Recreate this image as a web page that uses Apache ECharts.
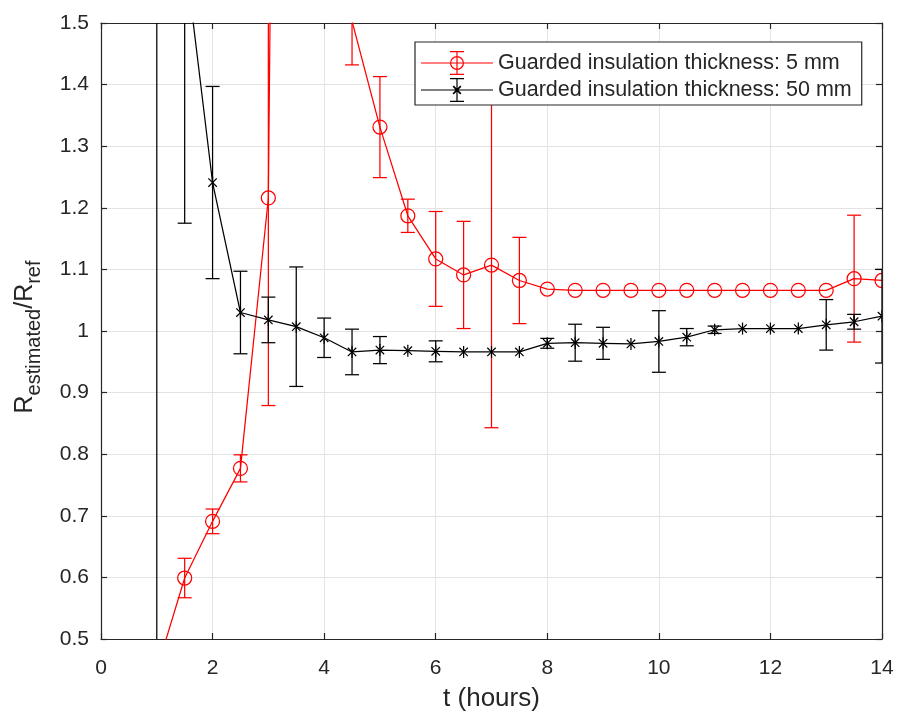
<!DOCTYPE html>
<html>
<head>
<meta charset="utf-8">
<script src="https://cdn.jsdelivr.net/npm/echarts@6/dist/echarts.min.js"></script>
<style>
html,body{margin:0;padding:0;background:#fff;}
#chart{width:898px;height:713px;}
</style>
</head>
<body>
<div id="chart"></div>
<script>
// ---- data ----
var tHours = [1, 1.5, 2, 2.5, 3, 3.5, 4, 4.5, 5, 5.5, 6, 6.5, 7, 7.5, 8, 8.5, 9, 9.5, 10, 10.5, 11, 11.5, 12, 12.5, 13, 13.5, 14];

var name5mm = 'Guarded insulation thickness: 5 mm';
var val5mm = [0.45, 0.599, 0.691, 0.777, 1.216, 6.0, 3.0, 1.503, 1.331, 1.187, 1.117, 1.091, 1.107, 1.082, 1.068, 1.066, 1.066, 1.066, 1.066, 1.066, 1.066, 1.066, 1.066, 1.066, 1.066, 1.085, 1.082];
var err5mm = [0.03, 0.032, 0.020, 0.022, 0.337, 1.0, 0.5, 0.071, 0.082, 0.027, 0.077, 0.087, 0.264, 0.070, 0, 0, 0, 0, 0, 0, 0, 0, 0, 0, 0, 0.103, 0];

var name50mm = 'Guarded insulation thickness: 50 mm';
var val50mm = [2.4, 1.615, 1.241, 1.030, 1.018, 1.007, 0.989, 0.966, 0.969, 0.968, 0.967, 0.966, 0.966, 0.966, 0.980, 0.981, 0.980, 0.979, 0.983, 0.990, 1.002, 1.004, 1.004, 1.004, 1.010, 1.015, 1.024];
var err50mm = [2.2, 0.44, 0.156, 0.067, 0.037, 0.097, 0.032, 0.037, 0.022, 0, 0.017, 0, 0, 0, 0.008, 0.030, 0.026, 0, 0.050, 0.014, 0.006, 0, 0, 0, 0.041, 0.012, 0.076];

var xTicks = {min: 0, max: 14, interval: 2};
var yTicks = {min: 0.5, max: 1.5, interval: 0.1};

// ---- build ----
var RED = '#ff0000', BLACK = '#000000', AXIS = '#262626', FONT = '"Liberation Sans", Arial, Helvetica, sans-serif';

function pairs(v) { return tHours.map(function (t, i) { return [t, v[i]]; }); }
function triples(v, e) { return tHours.map(function (t, i) { return [t, v[i], e[i]]; }); }

function errRender(kind, color) {
  return function (params, api) {
    var t = api.value(0), v = api.value(1), e = api.value(2);
    var p = api.coord([t, v]);
    var st = {stroke: color, lineWidth: 1.25, fill: null};
    var ch = [];
    if (e > 0) {
      var a = api.coord([t, v + e]), b = api.coord([t, v - e]);
      ch.push({type: 'line', shape: {x1: a[0], y1: a[1], x2: b[0], y2: b[1]}, style: st});
      ch.push({type: 'line', shape: {x1: a[0] - 7, y1: a[1], x2: a[0] + 7, y2: a[1]}, style: st});
      ch.push({type: 'line', shape: {x1: b[0] - 7, y1: b[1], x2: b[0] + 7, y2: b[1]}, style: st});
    }
    // markers of points outside the axis limits are not drawn (as in the reference)
    var inside = v >= yTicks.min && v <= yTicks.max && t >= xTicks.min && t <= xTicks.max;
    if (inside) {
      if (kind === 'circle') {
        ch.push({type: 'circle', shape: {cx: p[0], cy: p[1], r: 7}, style: {stroke: color, lineWidth: 1.25, fill: null}});
      } else {
        var s = 6, d = 4.2;
        ch.push({type: 'line', shape: {x1: p[0], y1: p[1] - s, x2: p[0], y2: p[1] + s}, style: st});
        ch.push({type: 'line', shape: {x1: p[0] - d, y1: p[1] - d, x2: p[0] + d, y2: p[1] + d}, style: st});
        ch.push({type: 'line', shape: {x1: p[0] - d, y1: p[1] + d, x2: p[0] + d, y2: p[1] - d}, style: st});
      }
    }
    return {type: 'group', children: ch};
  };
}

function rect(x1, y1, x2, y2) { return 'M' + x1 + ' ' + y1 + 'L' + x2 + ' ' + y1 + 'L' + x2 + ' ' + y2 + 'L' + x1 + ' ' + y2 + 'Z'; }
var baseIcon = rect(0, 11.4, 72, 12.6) + rect(35.4, 0, 36.6, 24) + rect(29, 0, 43, 1.2) + rect(29, 22.8, 43, 24);
var iconRed = 'path://' + baseIcon +
  'M43 12A7 7 0 1 1 29 12A7 7 0 1 1 43 12Z' +
  'M41.8 12A5.8 5.8 0 1 0 30.2 12A5.8 5.8 0 1 0 41.8 12Z';
var dd = 3.8, ww = 0.6;
var iconBlack = 'path://' + baseIcon +
  'M' + (36 - dd + ww) + ' ' + (12 - dd - ww) + 'L' + (36 + dd + ww) + ' ' + (12 + dd - ww) + 'L' + (36 + dd - ww) + ' ' + (12 + dd + ww) + 'L' + (36 - dd - ww) + ' ' + (12 - dd + ww) + 'Z' +
  'M' + (36 - dd - ww) + ' ' + (12 + dd - ww) + 'L' + (36 + dd - ww) + ' ' + (12 - dd - ww) + 'L' + (36 + dd + ww) + ' ' + (12 - dd + ww) + 'L' + (36 - dd + ww) + ' ' + (12 + dd + ww) + 'Z';

function xAx(pos, labels) {
  return {
    type: 'value', position: pos, min: xTicks.min, max: xTicks.max, interval: xTicks.interval,
    axisLine: {show: true, onZero: false, lineStyle: {color: AXIS, width: 1.2}},
    axisTick: {show: true, inside: true, length: 6, lineStyle: {color: AXIS, width: 1.2}},
    axisLabel: {show: labels, color: AXIS, fontSize: 21, fontFamily: FONT, margin: 19},
    splitLine: {show: labels, lineStyle: {color: '#e3e3e3', width: 1}},
    name: labels ? 't (hours)' : '', nameLocation: 'middle', nameGap: 47,
    nameTextStyle: {color: AXIS, fontSize: 26, fontFamily: FONT}
  };
}
function yAx(pos, labels) {
  return {
    type: 'value', position: pos, min: yTicks.min, max: yTicks.max, interval: yTicks.interval,
    axisLine: {show: true, onZero: false, lineStyle: {color: AXIS, width: 1.2}},
    axisTick: {show: true, inside: true, length: 6, lineStyle: {color: AXIS, width: 1.2}},
    axisLabel: {show: labels, color: AXIS, fontSize: 21, fontFamily: FONT, margin: 12},
    splitLine: {show: labels, lineStyle: {color: '#e3e3e3', width: 1}},
    name: labels ? '{a|R}{s|estimated}{a|/R}{s|ref}' : '', nameLocation: 'middle', nameGap: 57, nameRotate: 90,
    nameTextStyle: {
      color: AXIS, fontFamily: FONT, padding: [0, 12, 0, 0],
      rich: {
        a: {fontSize: 25, fontFamily: FONT, color: AXIS, verticalAlign: 'bottom', padding: [0, 0, 6, 0]},
        s: {fontSize: 20, fontFamily: FONT, color: AXIS, verticalAlign: 'bottom'}
      }
    }
  };
}

var chart = echarts.init(document.getElementById('chart'), null, {renderer: 'canvas'});
chart.setOption({
  backgroundColor: '#ffffff',
  animation: false,
  grid: {left: 101, right: 16, top: 23, bottom: 74, containLabel: false, outerBoundsMode: 'none'},
  xAxis: [xAx('bottom', true), xAx('top', false)],
  yAxis: [yAx('left', true), yAx('right', false)],
  legend: {
    orient: 'vertical', left: 415, top: 42,
    backgroundColor: '#ffffff', borderColor: AXIS, borderWidth: 1.2, borderRadius: 0,
    padding: [9, 10, 3, 6], itemGap: 3, itemWidth: 72, itemHeight: 24,
    textStyle: {color: AXIS, fontSize: 21.5, fontFamily: FONT},
    itemStyle: {borderWidth: 0},
    data: [
      {name: name5mm, icon: iconRed, itemStyle: {color: RED, borderWidth: 0}},
      {name: name50mm, icon: iconBlack, itemStyle: {color: BLACK, borderWidth: 0}}
    ]
  },
  series: [
    {name: name5mm, type: 'line', color: RED, data: pairs(val5mm), symbol: 'none', clip: true,
     lineStyle: {color: RED, width: 1.25}, z: 2},
    {name: 'err5', type: 'custom', data: triples(val5mm, err5mm), renderItem: errRender('circle', RED), clip: true, z: 3},
    {name: name50mm, type: 'line', color: BLACK, data: pairs(val50mm), symbol: 'none', clip: true,
     lineStyle: {color: BLACK, width: 1.25}, z: 4},
    {name: 'err50', type: 'custom', data: triples(val50mm, err50mm), renderItem: errRender('star', BLACK), clip: true, z: 5}
  ]
});
</script>
</body>
</html>
